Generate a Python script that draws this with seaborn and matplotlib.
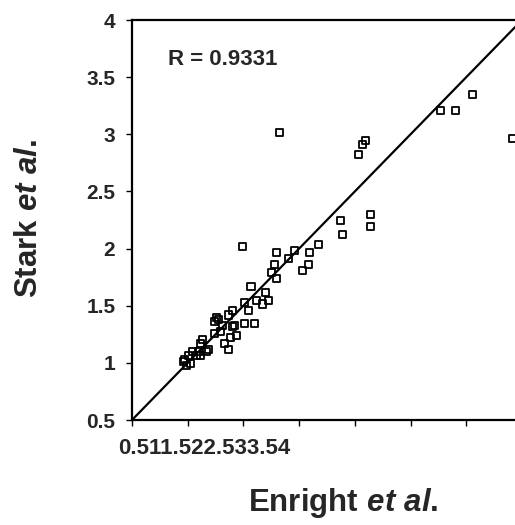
import numpy as np
import pandas as pd
import matplotlib
matplotlib.use('Agg')
import matplotlib.pyplot as plt
import seaborn as sns

# values (Enright et al. vs Stark et al.)
enright = [0.963, 0.975, 0.993, 1.010, 1.028, 1.046, 1.082, 1.100, 1.118, 1.118,
           1.136, 1.172, 1.190, 1.243, 1.243, 1.261, 1.279, 1.297, 1.315, 1.333,
           1.364, 1.369, 1.381, 1.400, 1.404, 1.422, 1.440, 1.494, 1.506, 1.508,
           1.544, 1.568, 1.601, 1.619, 1.673, 1.694, 1.724, 1.748, 1.777, 1.799,
           1.799, 1.820, 1.903, 1.957, 2.029, 2.083, 2.089, 2.175, 2.373, 2.390,
           2.531, 2.571, 2.592, 2.643, 2.643, 3.271, 3.400, 3.558, 3.914]
stark = [1.015, 1.026, 0.979, 1.062, 0.991, 1.097, 1.062, 1.097, 1.062, 1.168,
         1.203, 1.097, 1.115, 1.362, 1.256, 1.397, 1.379, 1.274, 1.326, 1.168,
         1.419, 1.115, 1.221, 1.456, 1.315, 1.326, 1.238, 2.022, 1.344, 1.526,
         1.456, 1.666, 1.344, 1.544, 1.515, 1.614, 1.544, 1.789, 1.859, 1.964,
         1.736, 3.013, 1.911, 1.981, 1.806, 1.859, 1.964, 2.032, 2.244, 2.124,
         2.825, 2.912, 2.944, 2.296, 2.191, 3.206, 3.206, 3.346, 2.965]
r_value = 0.9331
identity = [0.5, 4.0]          # y = x reference line
ticks = [0.5, 1, 1.5, 2, 2.5, 3, 3.5, 4]
xtick_text = '0.511.522.533.54'   # squeezed tick labels as in the original

df = pd.DataFrame({'Enright': enright, 'Stark': stark})

sns.set_style('white')
plt.rcParams['font.family'] = ['Liberation Sans', 'DejaVu Sans']
plt.rcParams['font.weight'] = 'bold'
plt.rcParams['mathtext.fontset'] = 'custom'
plt.rcParams['mathtext.rm'] = 'Liberation Sans:bold'
plt.rcParams['mathtext.it'] = 'Liberation Sans:italic:bold'

fig = plt.figure(figsize=(5.15, 5.25), dpi=100)
ax = fig.add_axes([132 / 515, 0.2, 390 / 515, 400 / 525])

# y = x line
sns.lineplot(x=identity, y=identity, color='black', linewidth=1.6, ax=ax)
# open squares
sns.scatterplot(data=df, x='Enright', y='Stark', marker='s', s=26,
                facecolors='none', edgecolor='black', linewidth=1.3, ax=ax,
                zorder=3)

ax.set_xlim(0.5, 4)
ax.set_ylim(0.5, 4)
ax.set_xticks(ticks)
ax.set_xticklabels([''] * len(ticks))
ax.set_yticks(ticks)
ax.set_yticklabels([f'{t:g}' for t in ticks], fontsize=15, fontweight='bold')
ax.tick_params(direction='out', length=4, width=1, color='black', pad=8,
               bottom=True, left=True)
for sp in ax.spines.values():
    sp.set_color('black')
    sp.set_linewidth(1.6)
ax.set_xlabel('')
ax.set_ylabel('')

ax.text(0.823, 3.658, f'R = {r_value}', fontsize=16, fontweight='bold',
        ha='left', va='center')

fig.text(118 / 515, 1 - 449 / 525, xtick_text, fontsize=16, fontweight='bold',
         ha='left', va='center')
fig.text(343 / 515, 1 - 503 / 525, r'$\mathrm{Enright}\ \mathit{et\ al.}$',
         fontsize=22.5, ha='center', va='center')
fig.text(29.5 / 515, 1 - 218 / 525, r'$\mathrm{Stark}\ \mathit{et\ al.}$',
         fontsize=22.5, ha='center', va='center', rotation=90)

fig.savefig('out.png', dpi=100)
